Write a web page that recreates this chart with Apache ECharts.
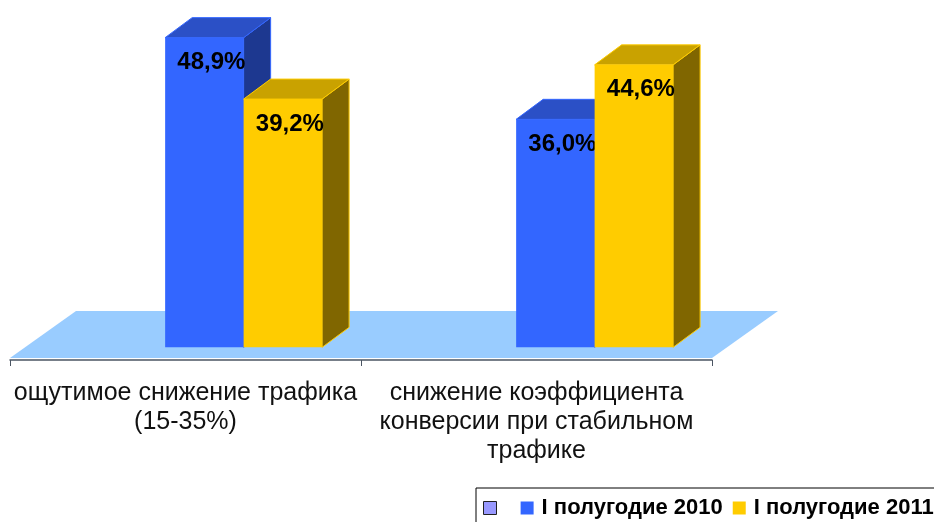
<!DOCTYPE html>
<html>
<head>
<meta charset="utf-8">
<script src="https://cdn.jsdelivr.net/npm/echarts@6/dist/echarts.min.js"></script>
<style>
  html, body { margin: 0; padding: 0; background: #fff; }
  #chart { width: 934px; height: 522px; }
</style>
</head>
<body>
<div id="chart"></div>
<script>
// категории и значения (%)
var categories = ['ощутимое снижение трафика\n(15-35%)', 'снижение коэффициента\nконверсии при стабильном\nтрафике'];
var seriesNames = ['I полугодие 2010', 'I полугодие 2011'];
var values2010 = [48.9, 36.0];
var values2011 = [39.2, 44.6];

var FONT = '"Liberation Sans", Arial, sans-serif';

// грани столбиков: фронт, верх, бок
var faces = [
  { front: '#3366FF', top: '#2B50C6', side: '#1D3890', edge: '#3366FF' },
  { front: '#FFCC00', top: '#C9A200', side: '#806600', edge: '#FFCC00' }
];

function fmt(v) {
  return v.toFixed(1).replace('.', ',') + '%';
}

function barRender(idx) {
  return function (params, api) {
    var band = api.size([1, 0])[0];
    var base = api.coord([api.value(0), 0]);
    var top = api.coord([api.value(0), api.value(1)]);
    var w = band * 0.2236;
    var x0 = base[0] - band * 0.058 + idx * w;
    var x1 = x0 + w;
    var yb = base[1], yt = top[1];
    var dx = 27, dy = 20;
    var f = faces[idx];
    return {
      type: 'group',
      children: [
        {
          type: 'polygon',
          shape: { points: [[x1, yb], [x1 + dx, yb - dy], [x1 + dx, yt - dy], [x1, yt]] },
          style: { fill: f.side, stroke: f.edge, lineWidth: 1 }
        },
        {
          type: 'polygon',
          shape: { points: [[x0, yt], [x0 + dx, yt - dy], [x1 + dx, yt - dy], [x1, yt]] },
          style: { fill: f.top, stroke: f.edge, lineWidth: 1 }
        },
        {
          type: 'rect',
          shape: { x: x0, y: yt, width: w, height: yb - yt },
          style: { fill: f.front }
        },
        {
          type: 'text',
          x: (x0 + x1) / 2 + 7,
          y: yt + 25,
          style: {
            text: fmt(api.value(1)),
            fill: '#000',
            font: 'bold 24px ' + FONT,
            align: 'center',
            verticalAlign: 'middle'
          }
        }
      ]
    };
  };
}

var chart = echarts.init(document.getElementById('chart'));

chart.setOption({
  animation: false,
  backgroundColor: '#fff',
  grid: { left: 10, right: 222, top: 18, bottom: 162 },
  legend: {
    left: 476,
    top: 488,
    width: 520,
    padding: [9, 20, 8, 7],
    borderColor: '#000',
    borderWidth: 1,
    itemWidth: 13,
    itemHeight: 13,
    itemGap: 10,
    icon: 'rect',
    textStyle: { fontFamily: FONT, fontSize: 22, fontWeight: 'bold', color: '#000', padding: [0, 0, 0, 3] },
    data: [
      { name: ' ', itemStyle: { color: '#9999FF', borderColor: '#222', borderWidth: 1 } },
      { name: seriesNames[0], itemStyle: { color: '#3366FF' } },
      { name: seriesNames[1], itemStyle: { color: '#FFCC00' } }
    ]
  },
  xAxis: {
    type: 'category',
    data: categories,
    axisLine: { onZero: false, lineStyle: { color: '#4B5563', width: 1.5 } },
    axisTick: { show: true, length: 6, lineStyle: { color: '#4B5563' } },
    axisLabel: {
      margin: 19,
      fontFamily: FONT,
      fontSize: 25,
      lineHeight: 29,
      color: '#111',
      interval: 0
    },
    z: 5
  },
  yAxis: { type: 'value', min: -2, max: 52, show: false },
  series: [
    {
      // пол
      type: 'custom',
      silent: true,
      z: 1,
      data: [[0, 0]],
      renderItem: function (params, api) {
        var cs = params.coordSys;
        var yf = cs.y + cs.height - 2;
        var yk = cs.y + cs.height - 49;
        var dx = 66;
        return {
          type: 'polygon',
          shape: { points: [[cs.x, yf], [cs.x + cs.width, yf], [cs.x + cs.width + dx, yk], [cs.x + dx, yk]] },
          style: { fill: '#99CCFF' }
        };
      }
    },
    {
      name: ' ',
      type: 'custom',
      data: [],
      itemStyle: { color: '#9999FF' },
      renderItem: function () { return null; }
    },
    {
      name: seriesNames[0],
      type: 'custom',
      z: 2,
      itemStyle: { color: '#3366FF' },
      data: values2010.map(function (v, i) { return [i, v]; }),
      renderItem: barRender(0)
    },
    {
      name: seriesNames[1],
      type: 'custom',
      z: 2,
      itemStyle: { color: '#FFCC00' },
      data: values2011.map(function (v, i) { return [i, v]; }),
      renderItem: barRender(1)
    }
  ]
});
</script>
</body>
</html>
